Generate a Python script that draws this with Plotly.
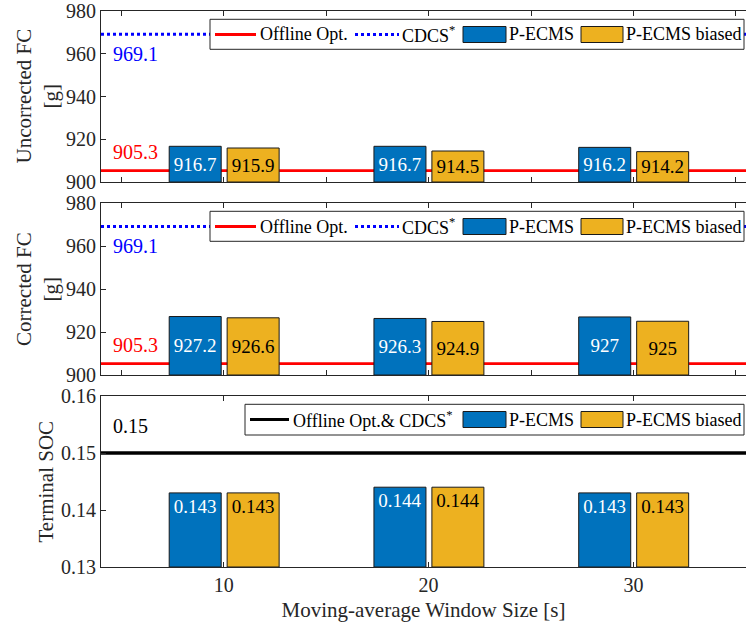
import plotly.graph_objects as go

# ---- data -------------------------------------------------------------
window_sizes = [10, 20, 30]

fc_uncorr_pecms = [916.7, 916.7, 916.2]
fc_uncorr_biased = [915.9, 914.5, 914.2]
fc_corr_pecms = [927.2, 926.3, 927]
fc_corr_biased = [926.6, 924.9, 925]
soc_pecms = [0.143, 0.144, 0.143]
soc_biased = [0.143, 0.144, 0.143]

fc_offline = 905.3
fc_cdcs = 969.1
soc_ref = 0.15

fc_range = [900, 980]
soc_range = [0.13, 0.16]

# ---- styling ----------------------------------------------------------
FONT = "Liberation Serif"
INK = "#262626"
BLUE = "#0072BD"
YELLOW = "#EDB120"
X_RANGE = [4, 35.5]
BAR_W = 2.54
OFF_BLUE = -2.67
OFF_YELLOW = 0.16

# figure geometry (pixels)
FIG_W, FIG_H = 746, 630
L, T = 101, 11
W, H = FIG_W - L, 556


def px(xp):
    return (xp - L) / W


def py(yp):
    return (T + H - yp) / H


fig = go.Figure()

panels = [
    ("x", "y", fc_uncorr_pecms, fc_uncorr_biased, fc_range[0], "middle"),
    ("x2", "y2", fc_corr_pecms, fc_corr_biased, fc_range[0], "middle"),
    ("x3", "y3", soc_pecms, soc_biased, soc_range[0], "end"),
]


def add_bars(xa, ya, vals, base, color, txtcolor, offset, anchor):
    # bars rise from the bottom of the axis range up to each value
    fig.add_trace(go.Bar(
        x=window_sizes, y=[v - base for v in vals], base=base,
        xaxis=xa, yaxis=ya, width=BAR_W, offset=offset,
        marker=dict(color=color, line=dict(color="#1a1a1a", width=1)),
        text=[f"{v:g}" for v in vals], texttemplate="%{text}",
        textposition="inside", insidetextanchor=anchor,
        textangle=0, constraintext="none",
        insidetextfont=dict(family=FONT, size=19, color=txtcolor),
        showlegend=False, hoverinfo="skip",
    ))


for xa, ya, blue_vals, yellow_vals, base, anchor in panels:
    add_bars(xa, ya, blue_vals, base, BLUE, "white", OFF_BLUE, anchor)
    add_bars(xa, ya, yellow_vals, base, YELLOW, "black", OFF_YELLOW, anchor)

annotations = []
shapes = []


def hline(xa, ya, value, color, width, dash="solid"):
    # full-width reference level drawn beneath the bars
    shapes.append(dict(type="line", xref=f"{xa} domain", yref=ya,
                       x0=0, x1=1, y0=value, y1=value, layer="below",
                       line=dict(color=color, width=width, dash=dash)))


for xa, ya in [("x", "y"), ("x2", "y2")]:
    hline(xa, ya, fc_offline, "#FF0000", 2.6)
    hline(xa, ya, fc_cdcs, "#0000FF", 3, "dot")
hline("x3", "y3", soc_ref, "black", 3.5)

# value labels for reference levels
for xa, ya in [("x", "y"), ("x2", "y2")]:
    annotations.append(dict(
        xref=f"{xa} domain", yref=ya, x=0.016, y=fc_cdcs, yshift=-20,
        text=f"{fc_cdcs}", showarrow=False, xanchor="left", yanchor="middle",
        font=dict(family=FONT, size=20, color="#0000FF")))
    annotations.append(dict(
        xref=f"{xa} domain", yref=ya, x=0.016, y=fc_offline, yshift=19,
        text=f"{fc_offline}", showarrow=False, xanchor="left", yanchor="middle",
        font=dict(family=FONT, size=20, color="#FF0000")))
annotations.append(dict(
    xref="x3 domain", yref="y3", x=0.016, y=soc_ref, yshift=27,
    text=f"{soc_ref}", showarrow=False, xanchor="left", yanchor="middle",
    font=dict(family=FONT, size=20, color="black")))


# hand-built legends (box, swatches, labels)
def add_legend(box, cy, items):
    x0, x1, y0, y1 = box
    shapes.append(dict(type="rect", xref="paper", yref="paper",
                       x0=px(x0), x1=px(x1), y0=py(y1), y1=py(y0),
                       fillcolor="white", line=dict(color="#262626", width=1),
                       layer="above"))
    for it in items:
        if it["kind"] == "line":
            shapes.append(dict(type="line", xref="paper", yref="paper",
                               x0=px(it["x0"]), x1=px(it["x1"]), y0=py(cy), y1=py(cy),
                               line=dict(color=it["color"], width=3, dash=it.get("dash", "solid")),
                               layer="above"))
        else:
            shapes.append(dict(type="rect", xref="paper", yref="paper",
                               x0=px(it["x0"]), x1=px(it["x1"]), y0=py(cy + 8), y1=py(cy - 8),
                               fillcolor=it["color"], line=dict(color="#1a1a1a", width=1),
                               layer="above"))
        annotations.append(dict(
            xref="paper", yref="paper", x=px(it["tx"]), y=py(cy),
            text=it["label"], showarrow=False, xanchor="left", yanchor="middle",
            font=dict(family=FONT, size=18, color="black")))


for dy in (0, 192):
    add_legend((210, 744, 19.3 + dy, 49.3 + dy), 34.5 + dy, [
        dict(kind="line", color="#FF0000", x0=215, x1=256, tx=258, label="Offline Opt."),
        dict(kind="line", color="#0000FF", dash="dot", x0=355, x1=399, tx=400,
             label="CDCS<sup>*</sup>"),
        dict(kind="rect", color=BLUE, x0=463, x1=506, tx=507, label="P-ECMS"),
        dict(kind="rect", color=YELLOW, x0=581, x1=623, tx=624, label="P-ECMS biased"),
    ])

add_legend((245, 744, 404.3, 435), 419.5, [
    dict(kind="line", color="black", x0=250, x1=289, tx=291,
         label="Offline Opt.& CDCS<sup>*</sup>"),
    dict(kind="rect", color=BLUE, x0=463, x1=506, tx=507, label="P-ECMS"),
    dict(kind="rect", color=YELLOW, x0=581, x1=623, tx=624, label="P-ECMS biased"),
])

# y-axis titles, rotated, placed beside each panel
titlefont = dict(family=FONT, size=21, color=INK)
for text, xc, yc in [("Uncorrected FC<br>[g]", 37, 96.5),
                     ("Corrected FC<br>[g]", 37, 289),
                     ("Terminal SOC", 45, 481.5)]:
    annotations.append(dict(
        xref="paper", yref="paper", x=px(xc), y=py(yc), text=text,
        textangle=-90, showarrow=False, xanchor="center", yanchor="middle",
        font=titlefont))

# ---- axes -------------------------------------------------------------
tickfont = dict(family=FONT, size=20, color=INK)

common_x = dict(range=X_RANGE, showgrid=False, zeroline=False, showline=True,
                linecolor=INK, linewidth=1, mirror="ticks", ticks="inside",
                ticklen=5, tickcolor=INK, tickfont=tickfont)
common_y = dict(showgrid=False, zeroline=False, showline=True, linecolor=INK,
                linewidth=1, mirror=False, ticks="inside", ticklen=5,
                tickcolor=INK, tickfont=tickfont)

dom_bottom = [0, py(396)]
dom_mid = [py(375), py(203)]
dom_top = [py(182), 1]

fig.update_layout(
    width=FIG_W, height=FIG_H,
    margin=dict(l=L, r=0, t=T, b=FIG_H - T - H),
    paper_bgcolor="white", plot_bgcolor="white",
    barmode="overlay",
    xaxis=dict(common_x, anchor="y", domain=[0, 1], dtick=5, showticklabels=False),
    xaxis2=dict(common_x, anchor="y2", domain=[0, 1], dtick=5, showticklabels=False),
    xaxis3=dict(common_x, anchor="y3", domain=[0, 1], tickvals=window_sizes,
                title=dict(text="Moving-average Window Size [s]", font=titlefont, standoff=7)),
    yaxis=dict(common_y, anchor="x", domain=dom_top, range=fc_range, dtick=20),
    yaxis2=dict(common_y, anchor="x2", domain=dom_mid, range=fc_range, dtick=20),
    yaxis3=dict(common_y, anchor="x3", domain=dom_bottom, range=soc_range,
                dtick=0.01, tickformat=".2f"),
    annotations=annotations,
    shapes=shapes,
)

fig.write_html("out.html")
